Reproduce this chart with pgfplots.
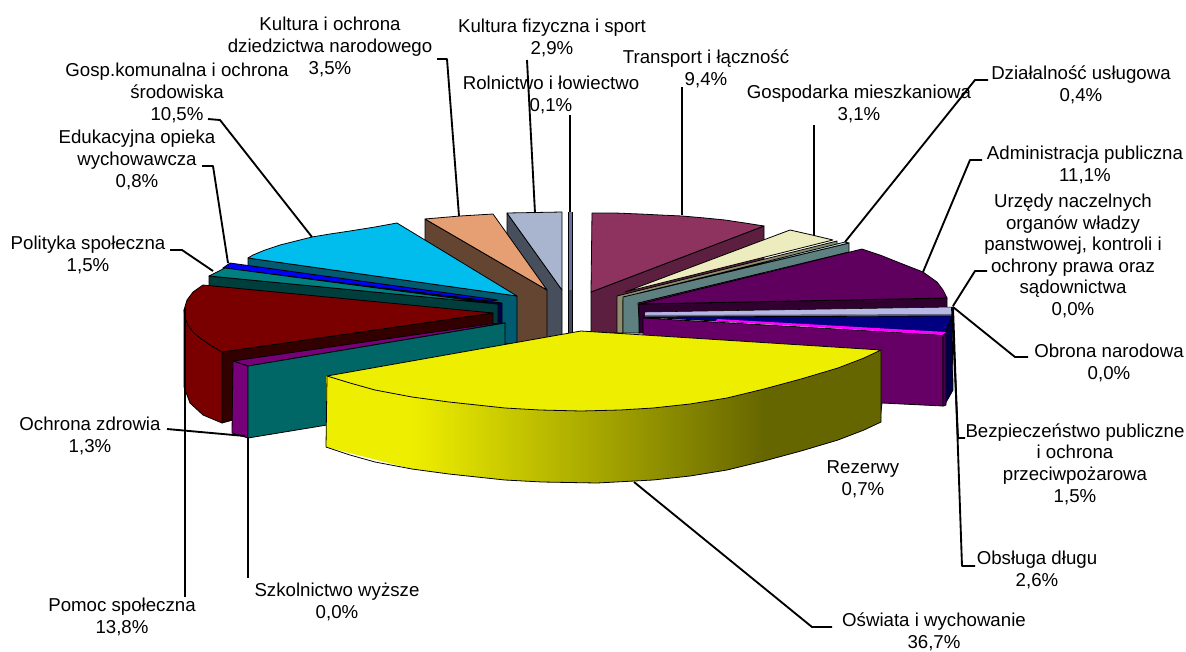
\documentclass[border=0pt]{standalone}
\usepackage{fontspec}
\setmainfont{Liberation Sans}
\usepackage{pgfplots}
\pgfplotsset{compat=1.18}
\definecolor{yel}{HTML}{EEEE00}
\definecolor{yeld}{HTML}{666600}
\definecolor{cyanT}{HTML}{00BDEE}
\definecolor{cyanS}{HTML}{005A70}
\definecolor{peach}{HTML}{E69F72}
\definecolor{brownS}{HTML}{644532}
\definecolor{greyT}{HTML}{A9B5CF}
\definecolor{greyS}{HTML}{484F5C}
\definecolor{rolT}{HTML}{6B6FA8}
\definecolor{rolS}{HTML}{444860}
\definecolor{plumT}{HTML}{8E335F}
\definecolor{plumS}{HTML}{5C1F3F}
\definecolor{khakiT}{HTML}{ECECBE}
\definecolor{khakiS}{HTML}{8D8D6F}
\definecolor{uslT}{HTML}{BFEFEF}
\definecolor{uslS}{HTML}{5F8080}
\definecolor{admT}{HTML}{5F005F}
\definecolor{admS}{HTML}{30002F}
\definecolor{lav}{HTML}{B8B8E6}
\definecolor{lavd}{HTML}{666680}
\definecolor{navy}{HTML}{000080}
\definecolor{navyd}{HTML}{00004A}
\definecolor{mag}{HTML}{FF00FF}
\definecolor{purp}{HTML}{660066}
\definecolor{purpd}{HTML}{45004F}
\definecolor{redT}{HTML}{7A0000}
\definecolor{redS}{HTML}{330000}
\definecolor{tealT}{HTML}{008080}
\definecolor{tealS}{HTML}{003D3D}
\definecolor{blueT}{HTML}{0000FF}
\definecolor{vio}{HTML}{780078}
\definecolor{tealF}{HTML}{006666}
\newcommand{\lbl}[3]{\node[align=center,inner sep=0pt,font=\fontsize{14}{16.2}\selectfont] at (axis cs:#1,#2) {#3};}
\pgfplotsset{
  face/.style={draw=black,line width=0.6pt,fill=#1,line join=round},
  lead/.style={draw=black,line width=1.4pt,line join=round},
}
\begin{document}
\begin{tikzpicture}
\useasboundingbox (0,0) rectangle (889.5pt,488.25pt);
\begin{axis}[
  at={(0,0)},anchor=south west,scale only axis,
  width=889.5pt,height=488.25pt,
  xmin=0,xmax=1186,ymin=0,ymax=651,y dir=reverse,
  hide axis,clip=false]
% back slices, left of centre
\addplot[draw=none,fill=rolT] coordinates {(568,212)(572,212)(572,290)(568,290)} --cycle;
\addplot[draw=none,fill=rolS] coordinates {(568,290)(572,290)(572,333)(568,333)} --cycle;
\addplot[draw=black,line width=0.5pt] coordinates {(568,212)(568,333)};
\addplot[draw=black,line width=0.5pt] coordinates {(572,212)(572,333)};
\addplot[face=greyS] coordinates {(507,213)(562,290)(562,340)(507,345)} --cycle;
\addplot[face=greyT] coordinates {(507,213)(562,212)(562,290)} --cycle;
\addplot[face=brownS] coordinates {(425,219)(547,290)(547,345)(425,345)} --cycle;
\addplot[face=peach] coordinates {(425,219)(460,216)(493,214)(547,290)} --cycle;
\addplot[face=cyanS] coordinates {(248,258)(517,296)(517,345)(248,300)} --cycle;
\addplot[face=cyanT] coordinates {(248,258)(253,255)(265,250)(280,245)(296,241)(312,237)(330,234)(350,231)(375,227)(397,223)(517,296)} --cycle;
\addplot[face=navyd] coordinates {(223,268)(502,303)(502,325)(223,290)} --cycle;
\addplot[face=blueT] coordinates {(223,268)(230,263)(498,300)(490,301)} --cycle;
\addplot[face=tealS] coordinates {(209,276)(498,304)(498,326)(209,295)} --cycle;
\addplot[face=tealT] coordinates {(209,276)(225,268)(498,304)} --cycle;
\addplot[face=redS] coordinates {(222,352)(493,313)(493,335)(233,375)(233,420)(222,423)} --cycle;
\addplot[face=redT] coordinates {(184,310)(188,325)(200,338)(222,352)(222,423)(203,415)(190,403)(184,387)} --cycle;
\addplot[face=redT] coordinates {(203,285)(193,292)(187,300)(184,310)(185,318)(188,325)(193,332)(200,338)(210,345)(222,352)(493,313)} --cycle;
\addplot[face=vio] coordinates {(233,361)(490,324)(505,323)(248,366)} --cycle;
\addplot[face=vio] coordinates {(233,361)(248,366)(248,438)(232,433)} --cycle;
\addplot[face=tealF] coordinates {(248,366)(505,323)(505,380)(327,425)(248,438)} --cycle;
% back slices, right of centre
\addplot[face=plumS] coordinates {(591,292)(764,226)(764,280)(620,333)(591,333)} --cycle;
\addplot[face=plumT] coordinates {(592,213)(615,213)(640,214)(660,215)(682,216)(705,218)(725,220)(745,223)(764,226)(591,292)} --cycle;
\addplot[face=khakiS] coordinates {(617,296)(837,241)(837,250)(623,300)(623,333)(617,333)} --cycle;
\addplot[face=khakiT] coordinates {(790,230)(812,235)(833,240)(625,292)} --cycle;
\addplot[face=uslS] coordinates {(623,297)(849,243)(849,252)(638,303)(640,333)(623,333)} --cycle;
\addplot[face=uslT] coordinates {(845,242)(849,243)(640,293)} --cycle;
\addplot[face=admS] coordinates {(639,304)(947,298)(947,312)(645,318)(645,333)(639,333)} --cycle;
\addplot[face=admT] coordinates {(640,304)(862,249)(880,255)(900,263)(923,272)(937,282)(943,290)(947,298)} --cycle;
\addplot[draw=none,fill=lav] coordinates {(645,312)(953,307)(953,314)(645,316)} --cycle;
\addplot[draw=black,line width=0.4pt] coordinates {(645,312)(953,307)(953,314)};
\addplot[draw=none,fill=lavd] coordinates {(645,315)(952,314)(952,316)(645,317)} --cycle;
\addplot[face=navyd] coordinates {(945,333)(952,316)(953,390)(944,406)} --cycle;
\addplot[face=navy] coordinates {(644,317)(952,316)(945,333)(716,321)} --cycle;
\addplot[face=purp] coordinates {(643,318)(943,335)(943,406)(882,403)(880,420)(643,420)} --cycle;
\addplot[draw=none,fill=mag] coordinates {(717,319)(946,332)(943,335)(716,321)} --cycle;
\addplot[face=purpd] coordinates {(943,335)(946,333)(946,405)(943,406)} --cycle;
% main yellow slice
\addplot[draw=none,fill=yel] coordinates {(326,376)(412,397)(412,469)(326,447)} --cycle;
\addplot[draw=none,left color=yel,right color=yeld] coordinates {(412,397)(449,402)(505,408)(581,411)(653,408)(690,404)(727,398)(764,389)(764,461)(727,470)(690,476)(653,480)(597,483)(542,482)(505,480)(449,474)(412,469)} --cycle;
\addplot[draw=none,fill=yeld] coordinates {(764,389)(801,379)(838,368)(864,358)(881,350)(881,422)(864,430)(838,440)(801,451)(764,461)} --cycle;
\addplot[draw=black,line width=0.6pt] coordinates {(327,376)(326,447)(350,455)(375,462)(412,469)(449,474)(505,480)(542,482)(597,483)(653,480)(690,476)(727,470)(764,461)(801,451)(838,440)(864,430)(881,422)(881,350)};
\addplot[face=yel] coordinates {(581,331)(881,350)(864,358)(838,368)(801,379)(764,389)(727,398)(690,404)(653,408)(620,410)(581,411)(540,410)(505,408)(449,402)(412,397)(375,390)(350,383)(327,376)} --cycle;
% leader lines
\addplot[lead] coordinates {(437,59)(447,59)(459,216)};
\addplot[lead] coordinates {(527,60)(535,213)};
\addplot[lead] coordinates {(570,115)(570,212)};
\addplot[lead] coordinates {(682,87)(682,215)};
\addplot[lead] coordinates {(814,125)(814,235)};
\addplot[lead] coordinates {(988,80)(975,80)(845,242)};
\addplot[lead] coordinates {(982,160)(970,160)(923,272)};
\addplot[lead] coordinates {(987,271)(975,271)(953,306)};
\addplot[lead] coordinates {(953,307)(1015,357)(1028,357)};
\addplot[lead] coordinates {(952,307)(958,438)(965,438)};
\addplot[lead] coordinates {(953,307)(962,566)(975,566)};
\addplot[lead] coordinates {(634,482)(812,627)(832,627)};
\addplot[lead] coordinates {(248,438)(248,578)};
\addplot[lead] coordinates {(185,308)(185,597)};
\addplot[lead] coordinates {(167,429)(245,436)};
\addplot[lead] coordinates {(170,250)(182,250)(213,271)};
\addplot[lead] coordinates {(202,166)(213,166)(228,263)};
\addplot[lead] coordinates {(208,119)(220,120)(312,237)};
% labels
\lbl{330}{47}{Kultura i ochrona\\dziedzictwa narodowego\\3,5\%}
\lbl{552}{38}{Kultura fizyczna i sport\\2,9\%}
\lbl{551}{95}{Rolnictwo i łowiectwo\\0,1\%}
\lbl{706}{69}{Transport i łączność\\9,4\%}
\lbl{859}{104}{Gospodarka mieszkaniowa\\3,1\%}
\lbl{1081}{85}{Działalność usługowa\\0,4\%}
\lbl{1085}{165}{Administracja publiczna\\11,1\%}
\lbl{1073}{256}{Urzędy naczelnych\\organów władzy\\panstwowej, kontroli i\\ochrony prawa oraz\\sądownictwa\\0,0\%}
\lbl{1109}{363}{Obrona narodowa\\0,0\%}
\lbl{1075}{464}{Bezpieczeństwo publiczne\\i ochrona\\przeciwpożarowa\\1,5\%}
\lbl{863}{479}{Rezerwy\\0,7\%}
\lbl{1037}{570}{Obsługa długu\\2,6\%}
\lbl{934}{632}{Oświata i wychowanie\\36,7\%}
\lbl{337}{602}{Szkolnictwo wyższe\\0,0\%}
\lbl{122}{617}{Pomoc społeczna\\13,8\%}
\lbl{90}{436}{Ochrona zdrowia\\1,3\%}
\lbl{88}{255}{Polityka społeczna\\1,5\%}
\lbl{137}{160}{Edukacyjna opieka\\wychowawcza\\0,8\%}
\lbl{177}{93}{Gosp.komunalna i ochrona\\środowiska\\10,5\%}
\end{axis}
\end{tikzpicture}
\end{document}
